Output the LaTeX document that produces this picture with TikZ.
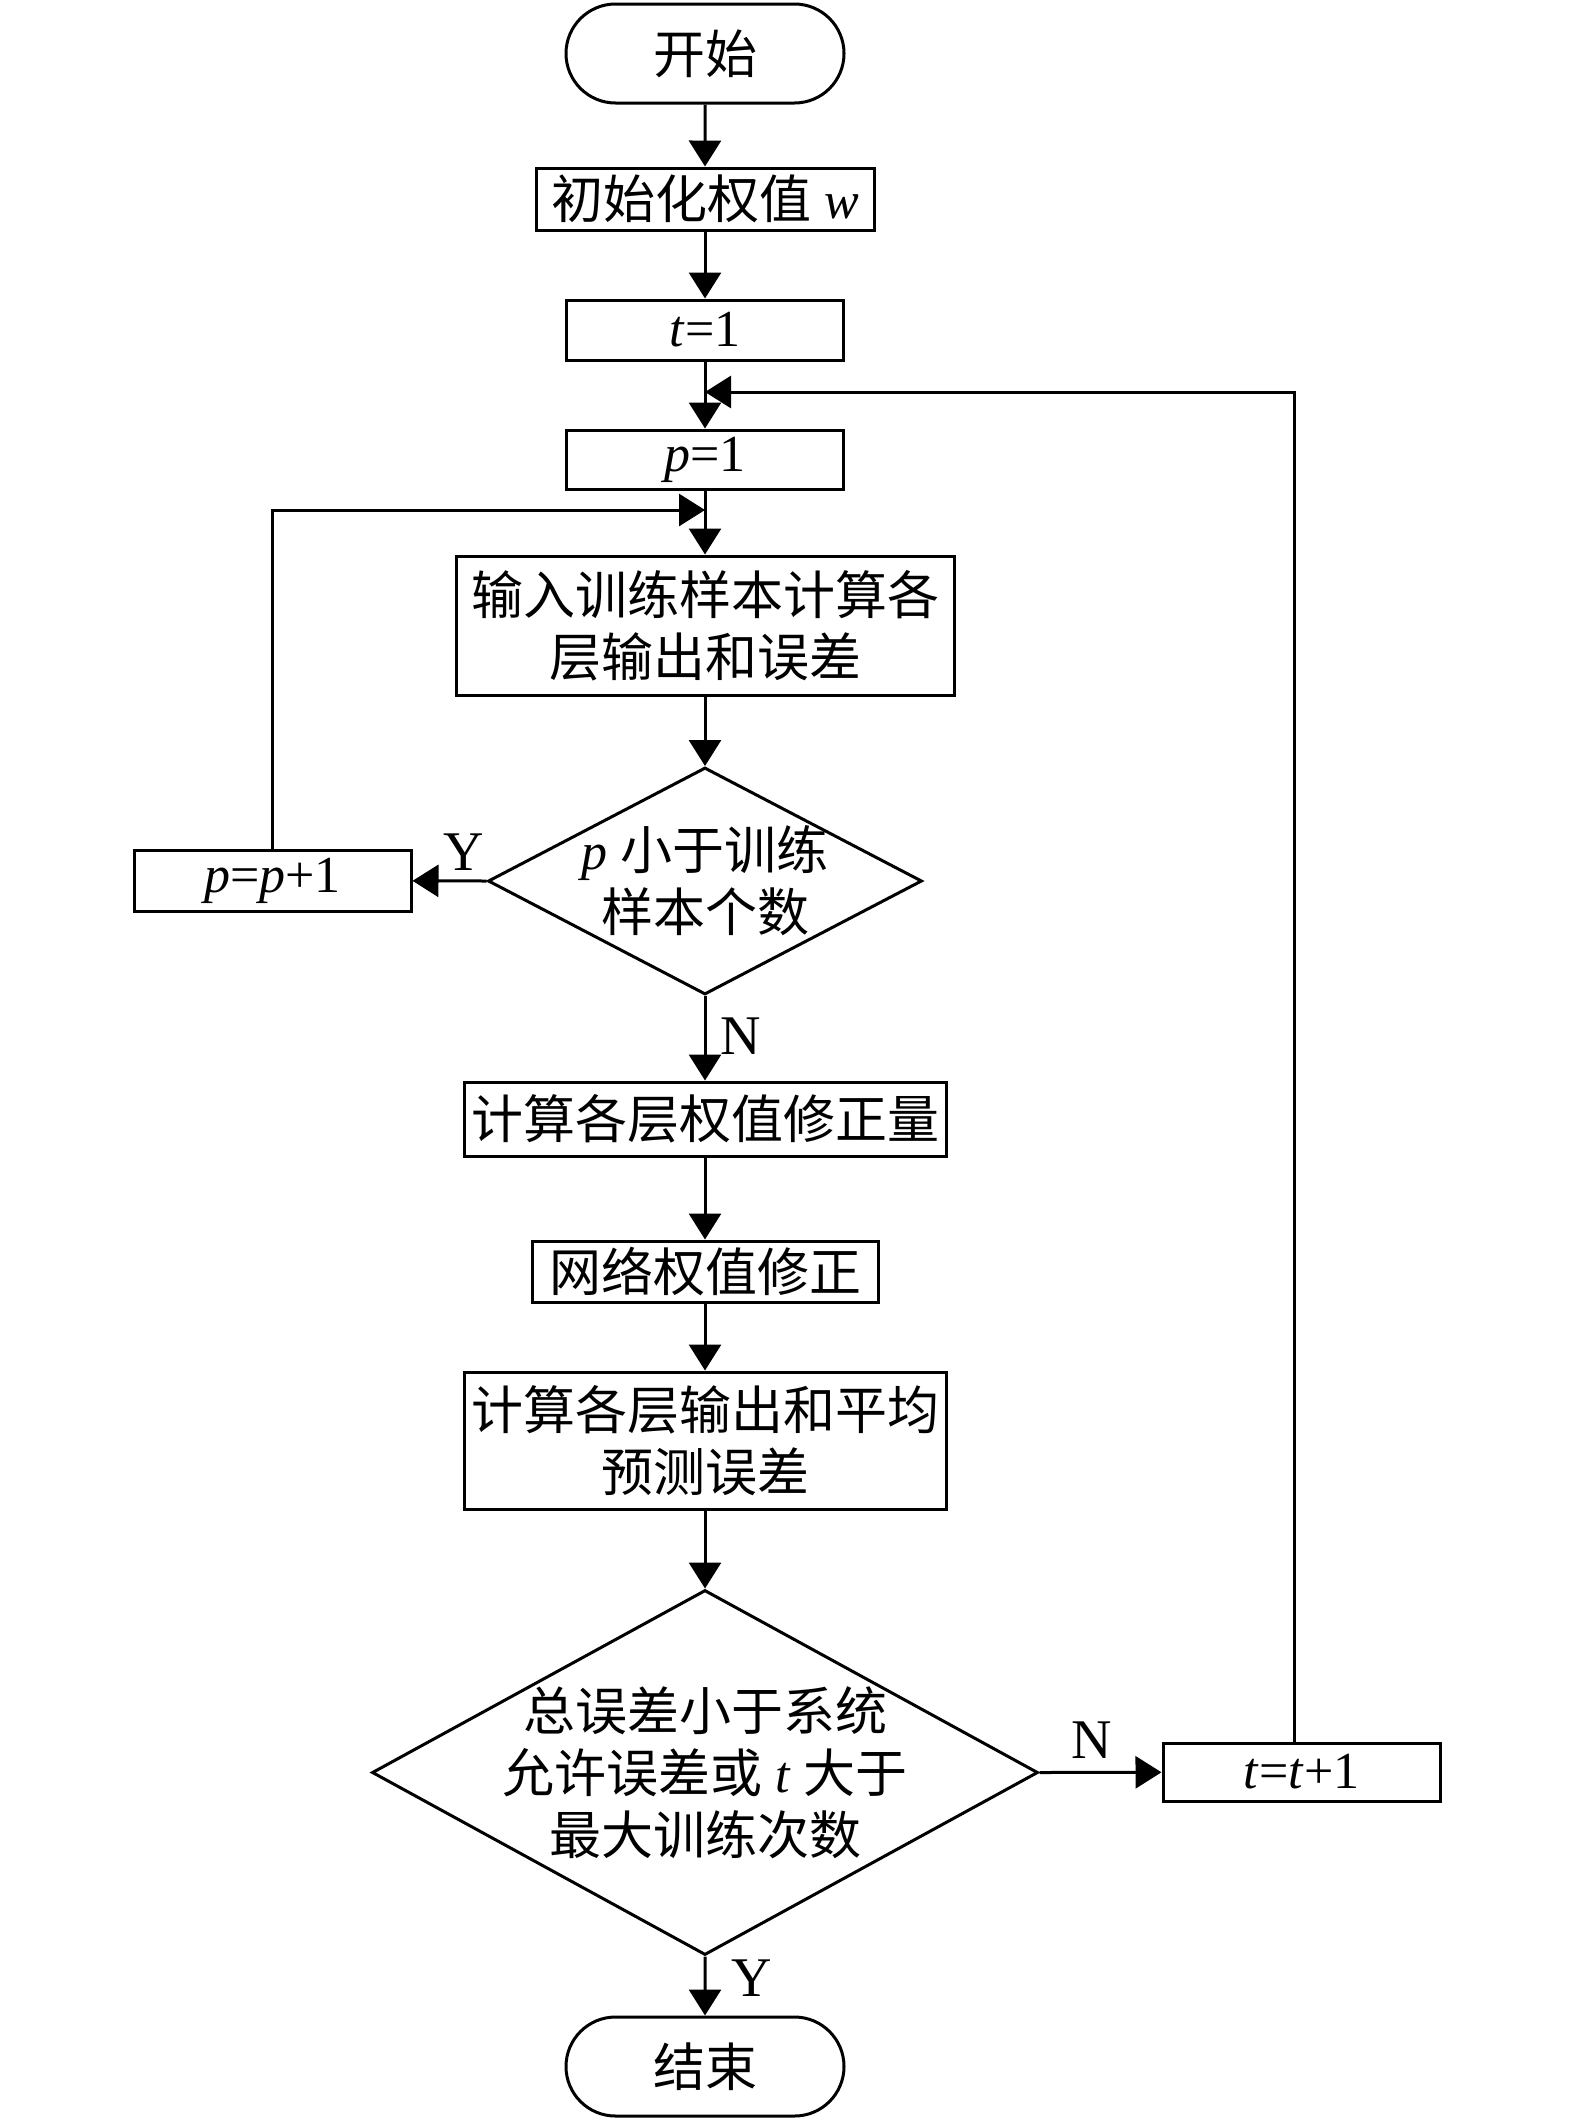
\documentclass[tikz,border=0pt]{standalone}
\usepackage{fontspec}
\setmainfont{Liberation Serif}
\newfontfamily\cjk{Noto Sans CJK SC}
\usetikzlibrary{shapes.geometric,shapes.misc,arrows.meta}

\begin{document}
\begin{tikzpicture}[x=0.5pt,y=-0.5pt,
	line width=1.5pt,
	>={Triangle[length=13pt,width=16pt]},
	every node/.style={font=\fontsize{26pt}{31pt}\selectfont},
	terminal/.style={draw,rounded rectangle,minimum width=139pt,minimum height=49.5pt,inner sep=0pt},
	process/.style={draw,rectangle,inner sep=0pt,align=center},
	decision/.style={draw,diamond,inner sep=0pt},
	yn/.style={font=\fontsize{28pt}{30pt}\selectfont}]
			\useasboundingbox (0,0) rectangle (1575,2120);
			
			%main column
			\node[terminal] (start) at (705, 53.5) {\cjk 开始};
			\node[process,minimum width=169pt,minimum height=31pt] (init) at (705, 199) {{\cjk 初始化权值} \textit{w}};
			\node[process,minimum width=138.5pt,minimum height=30pt] (t1) at (705, 330) {\textit{t}=1};
			\node[process,minimum width=138.5pt,minimum height=29.5pt] (p1) at (705, 459.5) {\textit{p}=1};
			\node[process,minimum width=249pt,minimum height=69.5pt] (calc1) at (705, 625.5) {\cjk 输入训练样本计算各\\\cjk 层输出和误差};
			\node[decision,minimum width=217pt,minimum height=113.5pt] (dec1) at (705, 881) {};
			\node[align=center] (dec1txt) at (dec1) {\textit{p} {\cjk 小于训练}\\\cjk 样本个数};
			\node[process,minimum width=241pt,minimum height=37pt] (calc2) at (705, 1119) {\cjk 计算各层权值修正量};
			\node[process,minimum width=173pt,minimum height=30.5pt] (update) at (705, 1271.5) {\cjk 网络权值修正};
			\node[process,minimum width=241pt,minimum height=68.5pt] (calc3) at (705, 1440.5) {\cjk 计算各层输出和平均\\\cjk 预测误差};
			\node[decision,minimum width=333pt,minimum height=182.5pt] (dec2) at (705, 1772.5) {};
			\node[align=center] (dec2txt) at (dec2) {\cjk 总误差小于系统\\{\cjk 允许误差或} \textit{t} {\cjk 大于}\\\cjk 最大训练次数};
			\node[terminal] (end) at (705, 2066.5) {\cjk 结束};
			
			%side boxes
			\node[process,minimum width=138.5pt,minimum height=30.5pt] (pinc) at (272.5, 880.5) {\textit{p}=\textit{p}+1};
			\node[process,minimum width=138.5pt,minimum height=29pt] (tinc) at (1301.5, 1772) {\textit{t}=\textit{t}+1};
			
			\coordinate (tmerge) at (705, 392);
			\coordinate (pmerge) at (705, 510);
			
			%arrows
			\draw[->] (start) -- (init);
			\draw[->] (init) -- (t1);
			\draw[->] (t1) -- (p1);
			\draw[->] (p1) -- (calc1);
			\draw[->] (calc1) -- (dec1);
			\draw[->] (dec1.south) -- (calc2);
			\draw[->] (calc2) -- (update);
			\draw[->] (update) -- (calc3);
			\draw[->] (calc3) -- (dec2);
			\draw[->] (dec2.south) -- (end);
			\draw[->] (dec1.west) -- (pinc);
			\draw[->] (dec2.east) -- (tinc);
			
			%loops
			\draw[->] (pinc.north) |- (pmerge);
			\draw[->] ([xshift=-3.5pt]tinc.north) |- (tmerge);
			
			%labels
			\node[yn] (ylab1) at (464, 852) {Y};
			\node[yn] (nlab1) at (741, 1036) {N};
			\node[yn] (nlab2) at (1092, 1740) {N};
			\node[yn] (ylab2) at (752, 1978) {Y};
		\end{tikzpicture}
\end{document}
